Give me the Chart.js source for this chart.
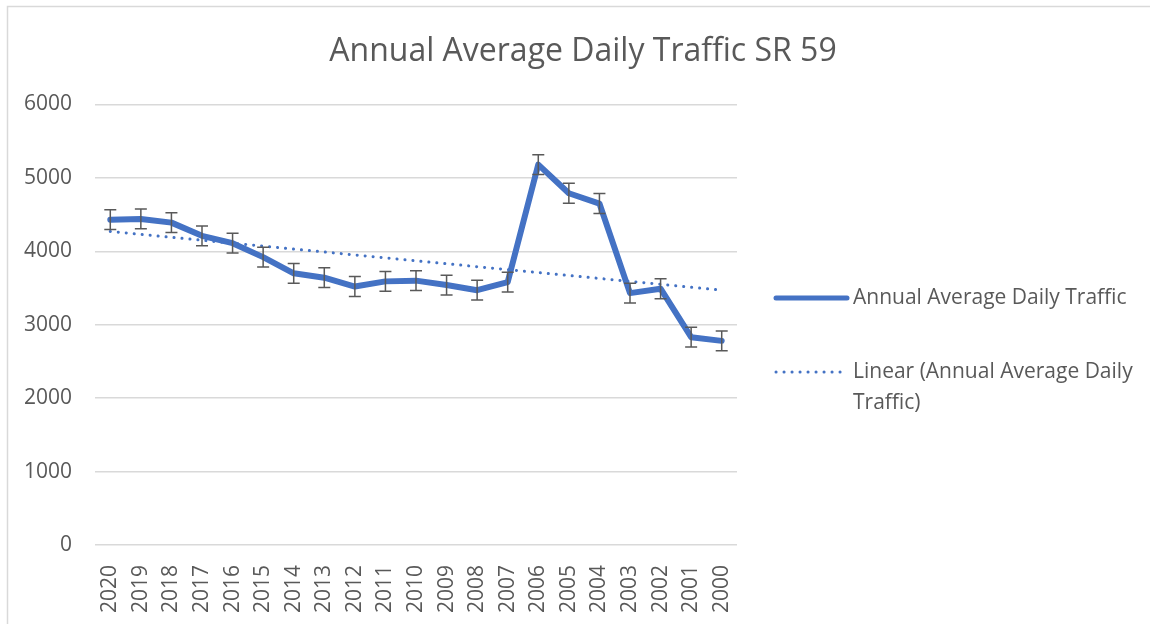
<!DOCTYPE html>
<html>
<head>
<meta charset="utf-8">
<script src="https://cdn.jsdelivr.net/npm/chart.js@4/dist/chart.umd.min.js"></script>
<style>
  html, body { margin: 0; padding: 0; background: #fff; }
  #wrap { width: 1150px; height: 624px; position: relative; }
</style>
</head>
<body>
<div id="wrap"><canvas id="chart"></canvas></div>
<script>
const years = ['2020', '2019', '2018', '2017', '2016', '2015', '2014', '2013', '2012', '2011',
  '2010', '2009', '2008', '2007', '2006', '2005', '2004', '2003', '2002', '2001', '2000'];
const aadt = [4430, 4440, 4390, 4210, 4110, 3920, 3700, 3640, 3520, 3590,
  3600, 3540, 3470, 3580, 5180, 4790, 4650, 3430, 3490, 2830, 2780];
// trendline as read at the two ends of the axis
const trendEnds = [4270, 3470];
const errorAmount = 135;
const yTicks = [0, 1000, 2000, 3000, 4000, 5000, 6000];

const trend = years.map((y, i) => i === 0 ? trendEnds[0] : (i === years.length - 1 ? trendEnds[1] : null));

const blue = '#4472C4';
const grey = '#595959';
const font = "'Open Sans', 'Noto Sans', sans-serif";

// error bars + frame + legend drawn by hand
const extras = {
  id: 'extras',
  beforeDraw(chart) {
    const ctx = chart.ctx;
    ctx.save();
    ctx.strokeStyle = '#d9d9d9';
    ctx.lineWidth = 1.5;
    ctx.strokeRect(7.5, 6.5, 1160, 640);
    ctx.restore();
  },
  afterDatasetsDraw(chart) {
    const ctx = chart.ctx;
    const xs = chart.scales.x, ys = chart.scales.y;
    ctx.save();
    ctx.strokeStyle = grey;
    ctx.lineWidth = 1.5;
    aadt.forEach((v, i) => {
      const x = xs.getPixelForValue(i);
      const top = ys.getPixelForValue(v + errorAmount);
      const bot = ys.getPixelForValue(v - errorAmount);
      ctx.beginPath();
      ctx.moveTo(x, top); ctx.lineTo(x, bot);
      ctx.moveTo(x - 6, top); ctx.lineTo(x + 6, top);
      ctx.moveTo(x - 6, bot); ctx.lineTo(x + 6, bot);
      ctx.stroke();
    });
    ctx.restore();
  },
  afterDraw(chart) {
    const ctx = chart.ctx;
    const lx = chart.chartArea.right + 39;
    ctx.save();
    ctx.lineCap = 'round';
    ctx.strokeStyle = blue;
    ctx.lineWidth = 5;
    ctx.beginPath(); ctx.moveTo(lx, 298); ctx.lineTo(lx + 71, 298); ctx.stroke();
    ctx.lineWidth = 3;
    ctx.setLineDash([0.1, 7.9]);
    ctx.beginPath(); ctx.moveTo(lx, 372); ctx.lineTo(lx + 70, 372); ctx.stroke();
    ctx.setLineDash([]);
    ctx.fillStyle = grey;
    ctx.font = '21px ' + font;
    ctx.textBaseline = 'middle';
    ctx.fillText('Annual Average Daily Traffic', lx + 77, 298);
    ctx.fillText('Linear (Annual Average Daily', lx + 77, 372);
    ctx.fillText('Traffic)', lx + 77, 403);
    ctx.restore();
  }
};

new Chart(document.getElementById('chart'), {
  type: 'line',
  data: {
    labels: years,
    datasets: [{
      label: 'Annual Average Daily Traffic',
      data: aadt,
      borderColor: blue,
      backgroundColor: blue,
      borderWidth: 6,
      pointRadius: 0,
      tension: 0,
      borderJoinStyle: 'round',
      borderCapStyle: 'round',
      order: 2
    }, {
      label: 'Linear (Annual Average Daily Traffic)',
      data: trend,
      borderColor: blue,
      borderWidth: 3,
      borderDash: [0.1, 7.9],
      borderCapStyle: 'round',
      pointRadius: 0,
      spanGaps: true,
      order: 1
    }]
  },
  options: {
    responsive: true,
    maintainAspectRatio: false,
    animation: false,
    layout: { padding: { left: 16, right: 0, top: 0, bottom: 0 } },
    plugins: {
      legend: { display: false },
      tooltip: { enabled: false },
      title: {
        display: true,
        text: 'Annual Average Daily Traffic SR 59',
        color: grey,
        font: { family: font, size: 32, weight: 'normal' },
        padding: { top: 33, bottom: 33 }
      }
    },
    scales: {
      x: {
        offset: true,
        grid: { display: false },
        border: { display: false },
        ticks: {
          color: grey,
          font: { family: font, size: 21 },
          minRotation: 90,
          maxRotation: 90,
          autoSkip: false,
          padding: 12
        },
        afterFit(s) { s.height = 79; }
      },
      y: {
        min: 0,
        max: 6000,
        afterBuildTicks(s) { s.ticks = yTicks.map(v => ({ value: v })); },
        grid: { color: '#d9d9d9', lineWidth: 1.5, drawTicks: false },
        border: { display: false },
        ticks: {
          color: grey,
          font: { family: font, size: 21 },
          padding: 23,
          callback: v => String(v)
        },
        afterFit(s) { s.width = 79; }
      },
      yRight: {
        position: 'right',
        grid: { display: false },
        border: { display: false },
        ticks: { display: false },
        afterFit(s) { s.width = 413; }
      }
    }
  },
  plugins: [extras]
});
</script>
</body>
</html>
